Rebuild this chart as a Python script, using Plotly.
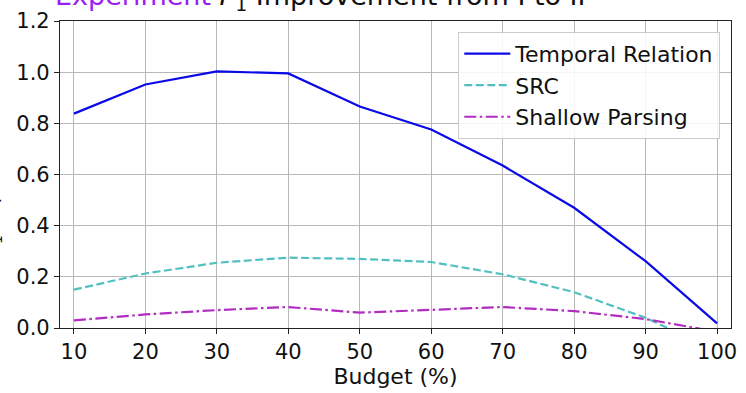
import plotly.graph_objects as go

budget = [10, 20, 30, 40, 50, 60, 70, 80, 90, 100]
temporal_relation = [0.838, 0.952, 1.003, 0.995, 0.866, 0.776, 0.635, 0.470, 0.261, 0.018]
src = [0.150, 0.213, 0.255, 0.275, 0.270, 0.258, 0.210, 0.140, 0.040, -0.090]
shallow_parsing = [0.030, 0.053, 0.070, 0.082, 0.060, 0.070, 0.082, 0.066, 0.035, -0.015]

x_ticks = [10, 20, 30, 40, 50, 60, 70, 80, 90, 100]
y_ticks = [0.0, 0.2, 0.4, 0.6, 0.8, 1.0, 1.2]

FONT = "DejaVu Sans"

fig = go.Figure()
fig.add_trace(go.Scatter(x=budget, y=temporal_relation, mode="lines", name="Temporal Relation",
                         line=dict(color="#0a0ae6", width=2.2)))
fig.add_trace(go.Scatter(x=budget, y=src, mode="lines", name="SRC",
                         line=dict(color="#52c0c0", width=2.2, dash="8px,3.5px")))
fig.add_trace(go.Scatter(x=budget, y=shallow_parsing, mode="lines", name="Shallow Parsing",
                         line=dict(color="#b22cc2", width=2.2, dash="12px,3.5px,2.5px,3.5px")))

axis_common = dict(
    showline=True, linecolor="#222222", linewidth=1.2, mirror=True,
    ticks="outside", ticklen=5, tickwidth=1.2, tickcolor="#222222",
    showgrid=True, gridcolor="#b8b8b8", gridwidth=1,
    zeroline=False,
    tickfont=dict(family=FONT, size=21, color="#111111"),
)

fig.update_xaxes(range=[8.05, 101.95], tickvals=x_ticks, ticktext=[str(v) for v in x_ticks],
                 title=dict(text="Budget (%)", font=dict(family=FONT, size=22, color="#111111"), standoff=4),
                 **axis_common)
fig.update_yaxes(range=[0, 1.2], tickvals=y_ticks, ticktext=[f"{v:.1f}" for v in y_ticks],
                 **axis_common)

fig.add_annotation(
    xref="paper", yref="paper", x=-0.0104, y=1.014, xanchor="left", yanchor="bottom",
    text="<span style='color:#9b1cf5'>Experiment</span> <i>F</i><sub>1</sub> Improvement from I to II",
    showarrow=False, font=dict(family=FONT, size=27, color="#111111"),
)
fig.add_annotation(
    xref="paper", yref="paper", x=-0.0805, y=0.5, xanchor="right", yanchor="middle",
    textangle=-90, text="<i>F</i><sub>1</sub> Improvement",
    showarrow=False, font=dict(family=FONT, size=20, color="#111111"),
)

fig.update_layout(
    width=746, height=393,
    margin=dict(l=60, r=9, t=16, b=61),
    paper_bgcolor="white", plot_bgcolor="white",
    font=dict(family=FONT, color="#111111"),
    showlegend=True,
    legend=dict(x=0.984, y=0.965, xanchor="right", yanchor="top",
                bgcolor="rgba(255,255,255,0.85)", bordercolor="#cccccc", borderwidth=1,
                font=dict(family=FONT, size=22, color="#111111"),
                itemwidth=46, tracegroupgap=0),
)

fig.write_html("out.html")
